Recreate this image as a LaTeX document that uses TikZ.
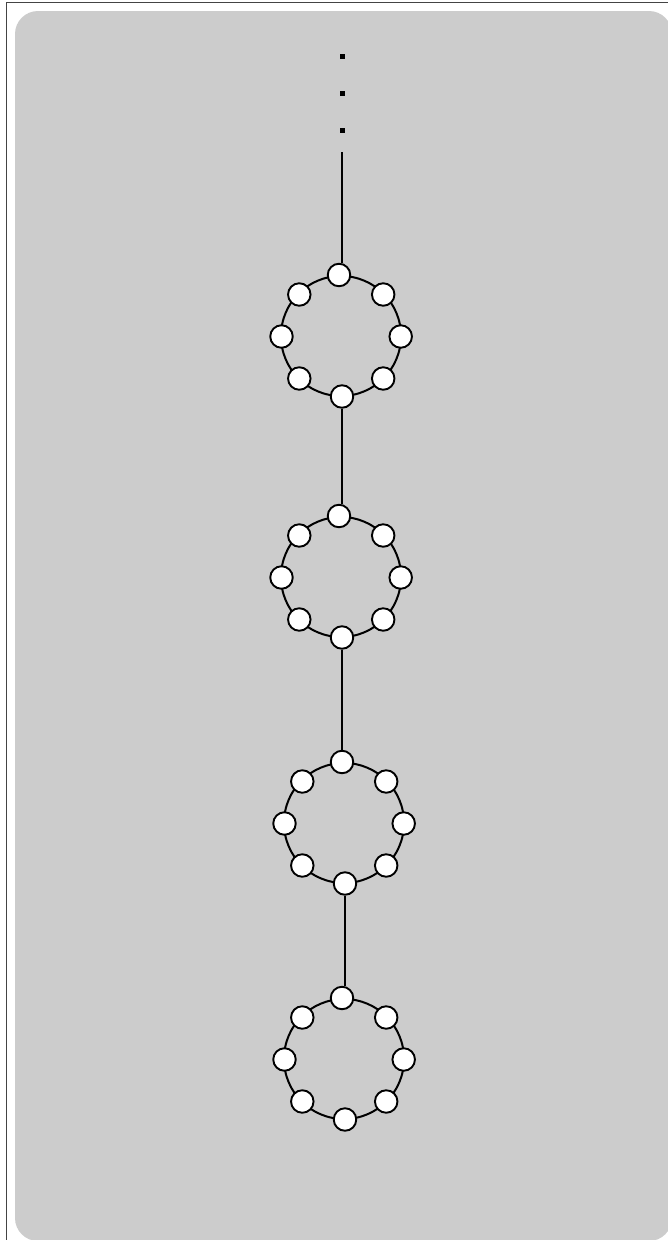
\documentclass[tikz,border=0pt]{standalone}
\definecolor{panelgray}{HTML}{CCCCCC}
\definecolor{framegray}{HTML}{444444}
\newcommand{\beadring}[3]{%
  \draw[ringline] (#2,#3) circle[radius=60];
  \node[bead] (#1t)  at (#2-2,#3-61) {};
  \node[bead] (#1b)  at (#2+1,#3+60.5) {};
  \node[bead] (#1l)  at (#2-59.5,#3+0.5) {};
  \node[bead] (#1r)  at (#2+59.7,#3+0.5) {};
  \node[bead] (#1tl) at (#2-41.7,#3-41.5) {};
  \node[bead] (#1tr) at (#2+42.2,#3-41.5) {};
  \node[bead] (#1bl) at (#2-41.7,#3+42.5) {};
  \node[bead] (#1br) at (#2+42.2,#3+42.5) {};
}
\begin{document}
\begin{tikzpicture}[x=1pt,y=-1pt,
  bead/.style={circle,draw=black,fill=white,line width=1.9pt,minimum size=22.5pt,inner sep=0pt},
  ringline/.style={line width=2pt},
  link/.style={line width=1.7pt},
  dotmark/.style={rectangle,fill=black,minimum size=5pt,inner sep=0pt}]
\useasboundingbox (0,0) rectangle (667,1240);
\fill[white] (0,0) rectangle (667,1240);
\draw[line width=1.3pt,framegray] (6.5,1250) -- (6.5,2.5) -- (680,2.5);
\fill[panelgray,rounded corners=23pt] (15,11) rectangle (672,1241);
% ellipsis dots
\node[dotmark] (d1) at (342.5,56.5) {};
\node[dotmark] (d2) at (342.5,93.5) {};
\node[dotmark] (d3) at (342.5,130.5) {};
\coordinate (chaintop) at (342,152);
% rings
\beadring{a}{341}{336}
\beadring{b}{341}{577}
\beadring{c}{344}{823}
\beadring{d}{344}{1059}
% links (vertical)
\draw[link] (chaintop) -- (chaintop |- at.north);
\draw[link] (ab.south) -- (ab.south |- bt.north);
\draw[link] (bb.south) -- (bb.south |- ct.north);
\draw[link] (cb.south) -- (cb.south |- dt.north);
\end{tikzpicture}
\end{document}
